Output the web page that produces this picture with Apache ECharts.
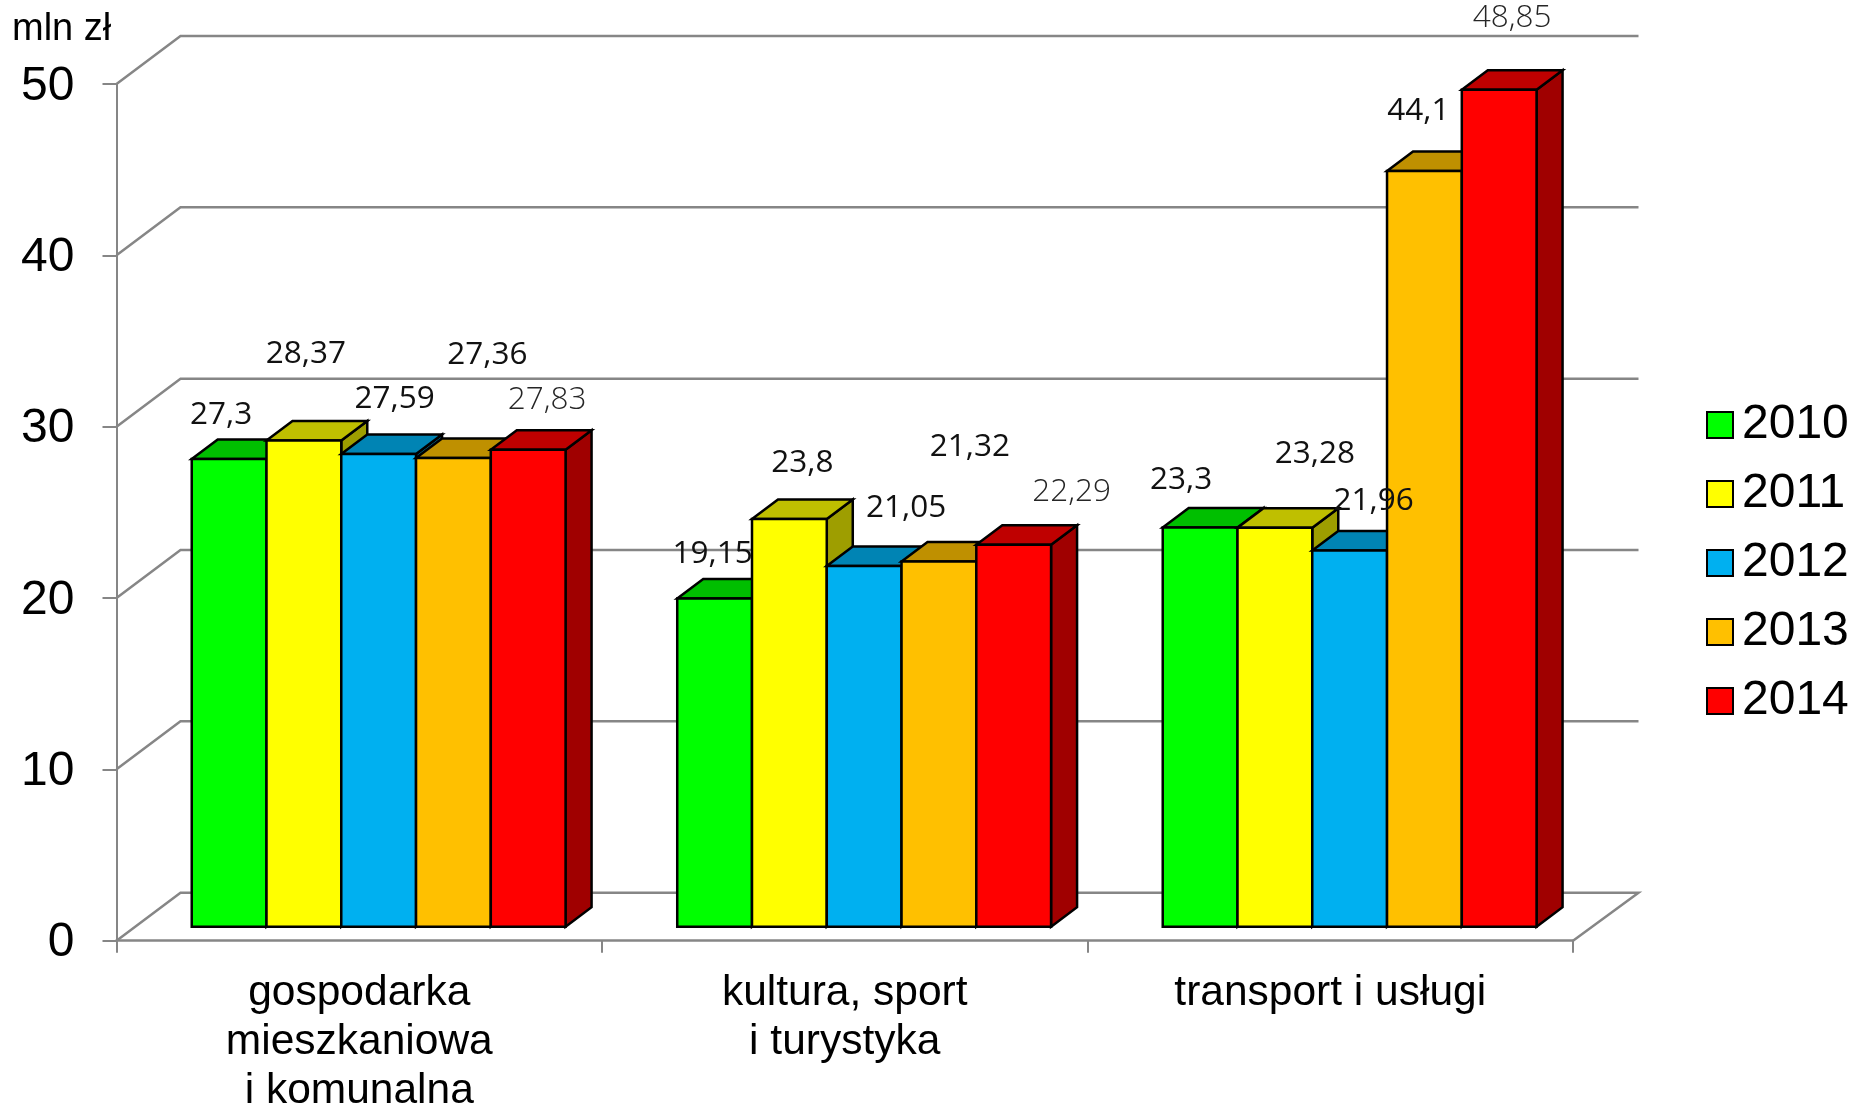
<!DOCTYPE html>
<html>
<head>
<meta charset="utf-8">
<style>html,body{margin:0;padding:0;background:#fff}#chart{width:1864px;height:1106px}</style>
<script src="https://cdn.jsdelivr.net/npm/echarts@6/dist/echarts.min.js"></script>
</head>
<body>
<div id="chart"></div>
<script>
const categories = ['gospodarka\nmieszkaniowa\ni komunalna', 'kultura, sport\ni turystyka', 'transport i usługi'];
const years = ['2010', '2011', '2012', '2013', '2014'];
const values2010 = [27.3, 19.15, 23.3];
const values2011 = [28.37, 23.8, 23.28];
const values2012 = [27.59, 21.05, 21.96];
const values2013 = [27.36, 21.32, 44.1];
const values2014 = [27.83, 22.29, 48.85];
const yearValues = [values2010, values2011, values2012, values2013, values2014];
const yTicks = [0, 10, 20, 30, 40, 50];

const frontColors = ['#00FF00', '#FFFF00', '#00B0F0', '#FFC000', '#FF0000'];
const topColors = ['#00BF00', '#BFBF00', '#0084B4', '#BF9000', '#BF0000'];
const sideColors = ['#009E00', '#9E9E00', '#006D95', '#9E7700', '#A00000'];

// manual data label placement, px from the top-centre of each bar's front face [year][category]
const labelNudges = [
  [[-8, -44], [-2, -45], [-19, -47]],
  [[2, -87], [13, -56], [40, -74]],
  [[16, -55], [42, -58], [24, -49]],
  [[34, -103], [31, -114], [-6, -60]],
  [[19, -50], [58, -53], [13, -72]]
];
const lightLabelYear = 4;

const GRAY = '#868686';
const WALL_DX = 64, WALL_DY = -48, WALL_OVERHANG = 1.5;
const BAR_DX = 26, BAR_DY = -19.5;
const BAR_LIFT = -14, BAR_SHIFT = 19.4, BAR_FRACTION = 0.154;

function barGeometry(api, yearIdx, catIdx, value) {
  const top = api.coord([catIdx, value]);
  const base = api.coord([catIdx, 0]);
  const w = api.size([1, 0])[0] * BAR_FRACTION;
  const x = top[0] + BAR_SHIFT + (yearIdx - 2.5) * w;
  return { x, w, y: top[1] + BAR_LIFT, base: base[1] + BAR_LIFT };
}

const stroke = { stroke: '#000', lineWidth: 2.5, lineJoin: 'miter' };

const barSeries = years.map((year, yearIdx) => ({
  name: year,
  type: 'custom',
  coordinateSystem: 'cartesian2d',
  clip: false,
  z: 5 + yearIdx,
  silent: true,
  itemStyle: { color: frontColors[yearIdx] },
  encode: { x: 0, y: 1 },
  data: yearValues[yearIdx].map((v, c) => [c, v]),
  renderItem(params, api) {
    const g = barGeometry(api, yearIdx, api.value(0), api.value(1));
    return {
      type: 'group',
      children: [
        { type: 'polygon', shape: { points: [[g.x + g.w, g.y], [g.x + g.w + BAR_DX, g.y + BAR_DY], [g.x + g.w + BAR_DX, g.base + BAR_DY], [g.x + g.w, g.base]] },
          style: Object.assign({ fill: sideColors[yearIdx] }, stroke) },
        { type: 'polygon', shape: { points: [[g.x, g.y], [g.x + g.w, g.y], [g.x + g.w + BAR_DX, g.y + BAR_DY], [g.x + BAR_DX, g.y + BAR_DY]] },
          style: Object.assign({ fill: topColors[yearIdx] }, stroke) },
        { type: 'rect', shape: { x: g.x, y: g.y, width: g.w, height: g.base - g.y },
          style: Object.assign({ fill: frontColors[yearIdx] }, stroke) }
      ]
    };
  }
}));

const labelData = [];
yearValues.forEach((vals, y) => vals.forEach((v, c) => labelData.push([c, v, y])));

const labelSeries = {
  name: 'etykiety',
  type: 'custom',
  clip: false,
  silent: true,
  z: 20,
  encode: { x: 0, y: 1 },
  data: labelData,
  renderItem(params, api) {
    const c = api.value(0), v = api.value(1), y = api.value(2);
    const g = barGeometry(api, y, c, v);
    const n = labelNudges[y][c];
    const light = y === lightLabelYear;
    return {
      type: 'text',
      style: {
        x: g.x + g.w / 2 + n[0],
        y: g.y + n[1],
        text: String(v).replace('.', ','),
        align: 'center',
        verticalAlign: 'middle',
        fontFamily: '"Open Sans"',
        fontSize: 31.5,
        fontWeight: light ? 300 : 400,
        fill: light ? '#262626' : '#111'
      }
    };
  }
};

const wallSeries = {
  name: 'siatka',
  type: 'custom',
  clip: false,
  silent: true,
  z: 1,
  encode: { y: 0 },
  data: yTicks.map(t => [0, t]),
  renderItem(params, api) {
    const v = api.value(1);
    const half = api.size([1, 0])[0] / 2;
    const p = api.coord([0, v]);
    const x0 = p[0] - half;
    const x1 = api.coord([categories.length - 1, v])[0] + half;
    const pts = [[x0, p[1]], [x0 + WALL_DX, p[1] + WALL_DY], [x1 + WALL_DX + WALL_OVERHANG, p[1] + WALL_DY]];
    if (v === 0) pts.push([x1, p[1]]);
    return { type: 'polyline', shape: { points: pts }, style: { fill: 'none', stroke: GRAY, lineWidth: 2.5 } };
  }
};

const chart = echarts.init(document.getElementById('chart'), null, { renderer: 'canvas' });
chart.setOption({
  animation: false,
  backgroundColor: '#fff',
  grid: { left: 116.5, top: 84, width: 1456.5, height: 856.7, containLabel: false, outerBoundsMode: 'none' },
  xAxis: {
    type: 'category',
    data: categories,
    axisLine: { show: true, lineStyle: { color: GRAY, width: 2.5 } },
    axisTick: { show: true, length: 12, lineStyle: { color: GRAY, width: 2 } },
    axisLabel: { margin: 28, fontFamily: '"Liberation Sans"', fontSize: 42.5, lineHeight: 49, color: '#000', interval: 0 },
    splitLine: { show: false }
  },
  yAxis: {
    type: 'value',
    min: 0, max: 50, interval: 10,
    axisLine: { show: true, lineStyle: { color: GRAY, width: 2 } },
    axisTick: { show: true, length: 14, lineStyle: { color: GRAY, width: 2 } },
    axisLabel: { margin: 42, fontFamily: '"Liberation Sans"', fontSize: 48, color: '#000', verticalAlign: 'top', lineHeight: 5 },
    splitLine: { show: false }
  },
  legend: {
    orient: 'vertical',
    left: 1701,
    top: 396,
    data: years,
    icon: 'rect',
    itemWidth: 26,
    itemHeight: 26,
    itemGap: 21,
    selectedMode: false,
    itemStyle: { borderColor: '#000', borderWidth: 2 },
    textStyle: { fontFamily: '"Liberation Sans"', fontSize: 48, lineHeight: 48, color: '#000', padding: [0, 0, 0, 4] }
  },
  graphic: [{
    type: 'text', left: 12, top: 11,
    style: { text: 'mln zł', fontFamily: '"Liberation Sans"', fontSize: 38, fill: '#000' }
  }],
  series: [wallSeries].concat(barSeries, [labelSeries])
});
</script>
</body>
</html>
